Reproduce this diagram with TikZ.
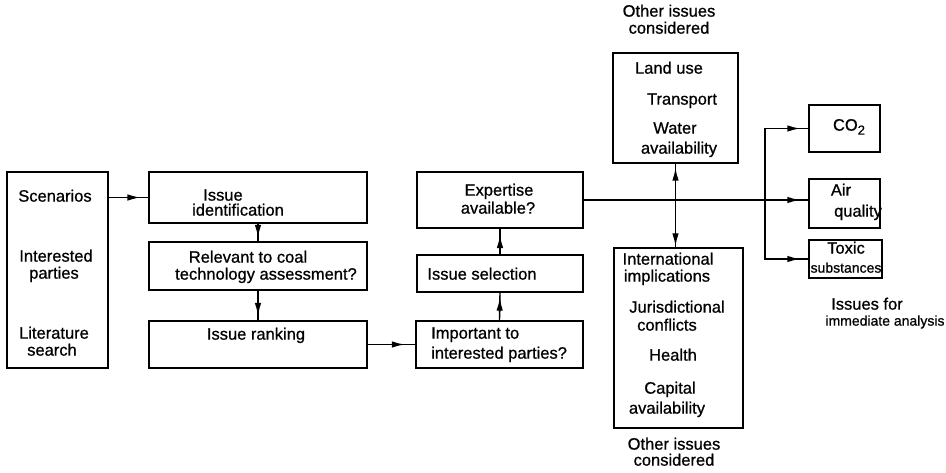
\documentclass[tikz,border=0pt]{standalone}
\usepackage{fontspec}
\setmainfont{Liberation Sans}[FakeBold=0.8]
\usetikzlibrary{arrows.meta,calc}
\tikzset{
  ln/.style={line width=1.4pt},
  tip/.style={line width=1.4pt, -{Latex[length=13pt,width=6.5pt]}},
  box/.style={draw, line width=1.4pt, inner sep=0pt},
  txt/.style={anchor=mid, inner sep=0pt, font=\fontsize{16.5}{17}\selectfont},
  smalltxt/.style={anchor=mid, inner sep=0pt, font=\fontsize{14}{15}\selectfont}
}
\begin{document}
\begin{tikzpicture}[x=1pt,y=1pt]
\useasboundingbox (0,0) rectangle (946,-473);
% boxes
\node[box, minimum width=101pt, minimum height=196pt] (lit) at (57.5,-270) {};
\node[box, minimum width=218pt, minimum height=51pt] (issueid) at (258,-197.5) {};
\node[box, minimum width=218pt, minimum height=48pt] (relevant) at (258,-266) {};
\node[box, minimum width=218pt, minimum height=47pt] (ranking) at (258,-344.5) {};
\node[box, minimum width=166pt, minimum height=56pt] (expertise) at (500,-200) {};
\node[box, minimum width=166pt, minimum height=37pt] (selection) at (500,-273.5) {};
\node[box, minimum width=167pt, minimum height=47pt] (important) at (499.5,-344.5) {};
\node[box, minimum width=125pt, minimum height=110pt] (landuse) at (675.5,-108) {};
\node[box, minimum width=129pt, minimum height=180pt] (intl) at (678.5,-338) {};
\node[box, minimum width=71pt, minimum height=47pt] (co2) at (844.5,-128.5) {};
\node[box, minimum width=71pt, minimum height=49pt] (air) at (844.5,-203.5) {};
\node[box, minimum width=73pt, minimum height=38pt] (toxic) at (845.5,-259) {};
% texts
\node[txt] (t1) at (55,-199) {Scenarios};
\node[txt] (t2) at (56,-259) {Interested};
\node[txt] (t3) at (54,-276) {parties};
\node[txt] (t4) at (54,-336) {Literature};
\node[txt] (t5) at (52,-353) {search};
\node[txt] (t6) at (223,-198) {Issue};
\node[txt] (t7) at (238,-213) {identification};
\node[txt] (t8) at (248,-260) {Relevant to coal};
\node[txt] (t9) at (266,-277) {technology assessment?};
\node[txt] (t10) at (256,-337) {Issue ranking};
\node[txt] (t11) at (499,-193) {Expertise};
\node[txt] (t12) at (498,-211) {available?};
\node[txt] (t13) at (482,-277) {Issue selection};
\node[txt, anchor=mid west] (t14) at (431,-336) {Important to};
\node[txt, anchor=mid west] (t15) at (431,-356) {interested parties?};
\node[txt] (t16) at (669,-14) {Other issues};
\node[txt] (t17) at (669,-31) {considered};
\node[txt] (t18) at (669,-71) {Land use};
\node[txt] (t19) at (682,-102) {Transport};
\node[txt] (t20) at (675,-131) {Water};
\node[txt] (t21) at (679,-151) {availability};
\node[txt] (t22) at (668,-262) {International};
\node[txt] (t23) at (667,-279) {implications};
\node[txt] (t24) at (677,-310) {Jurisdictional};
\node[txt] (t25) at (667,-328) {conflicts};
\node[txt] (t26) at (673,-358) {Health};
\node[txt] (t27) at (670,-391) {Capital};
\node[txt] (t28) at (667,-411) {availability};
\node[txt] (t29) at (674,-447) {Other issues};
\node[txt] (t30) at (674,-463) {considered};
\node[txt] (t31) at (849,-128) {CO\raisebox{-0.45ex}{\fontsize{13}{13}\selectfont 2}};
\node[txt] (t32) at (841,-193) {Air};
\node[txt] (t33) at (858,-214) {quality};
\node[txt] (t34) at (846,-251) {Toxic};
\node[smalltxt] (t35) at (846,-270) {substances};
\node[txt] (t36) at (867,-307) {Issues for};
\node[smalltxt] (t37) at (885,-323) {immediate analysis};
% connectors
\coordinate (j1) at (landuse.south |- expertise.east);
\coordinate (j2) at (765,-200);
\draw[ln] (lit.east |- issueid.west) -- (issueid.west);
\draw[tip] ($(lit.east |- issueid.west)!0.3!(issueid.west)$) -- ($(lit.east |- issueid.west)!0.8!(issueid.west)$);
\draw[ln] (issueid.south) -- (relevant.north);
\draw[tip] ($(issueid.south)!0.1!(relevant.north)$) -- ($(issueid.south)!0.8!(relevant.north)$);
\draw[ln] (relevant.south) -- (ranking.north);
\draw[tip] ($(relevant.south)!0.3!(ranking.north)$) -- ($(relevant.south)!0.85!(ranking.north)$);
\draw[ln] (ranking.east) -- (important.west);
\draw[tip] ($(ranking.east)!0.4!(important.west)$) -- ($(ranking.east)!0.78!(important.west)$);
\draw[ln] (important.north) -- (selection.south);
\draw[tip] ($(important.north)!0.3!(selection.south)$) -- ($(important.north)!0.82!(selection.south)$);
\draw[ln] (selection.north) -- (expertise.south);
\draw[tip] ($(selection.north)!0.1!(expertise.south)$) -- ($(selection.north)!0.75!(expertise.south)$);
\draw[ln] (expertise.east) -- (air.west |- expertise.east);
\draw[tip] ($(air.west |- expertise.east)+(-25,0)$) -- ($(air.west |- expertise.east)+(-8,0)$);
\draw[ln] (j1) -- (landuse.south);
\draw[tip] ($(landuse.south)+(0,-22)$) -- ($(landuse.south)+(0,-4)$);
\draw[ln] (j1) -- (intl.north -| j1);
\draw[tip] ($(intl.north -| j1)+(0,20)$) -- ($(intl.north -| j1)+(0,1)$);
\draw[ln] (j2) |- (co2.west);
\draw[tip] ($(co2.west)+(-25,0)$) -- ($(co2.west)+(-8,0)$);
\draw[ln] (j2) |- (toxic.west);
\draw[tip] ($(toxic.west)+(-25,0)$) -- ($(toxic.west)+(-8,0)$);
\end{tikzpicture}
\end{document}
